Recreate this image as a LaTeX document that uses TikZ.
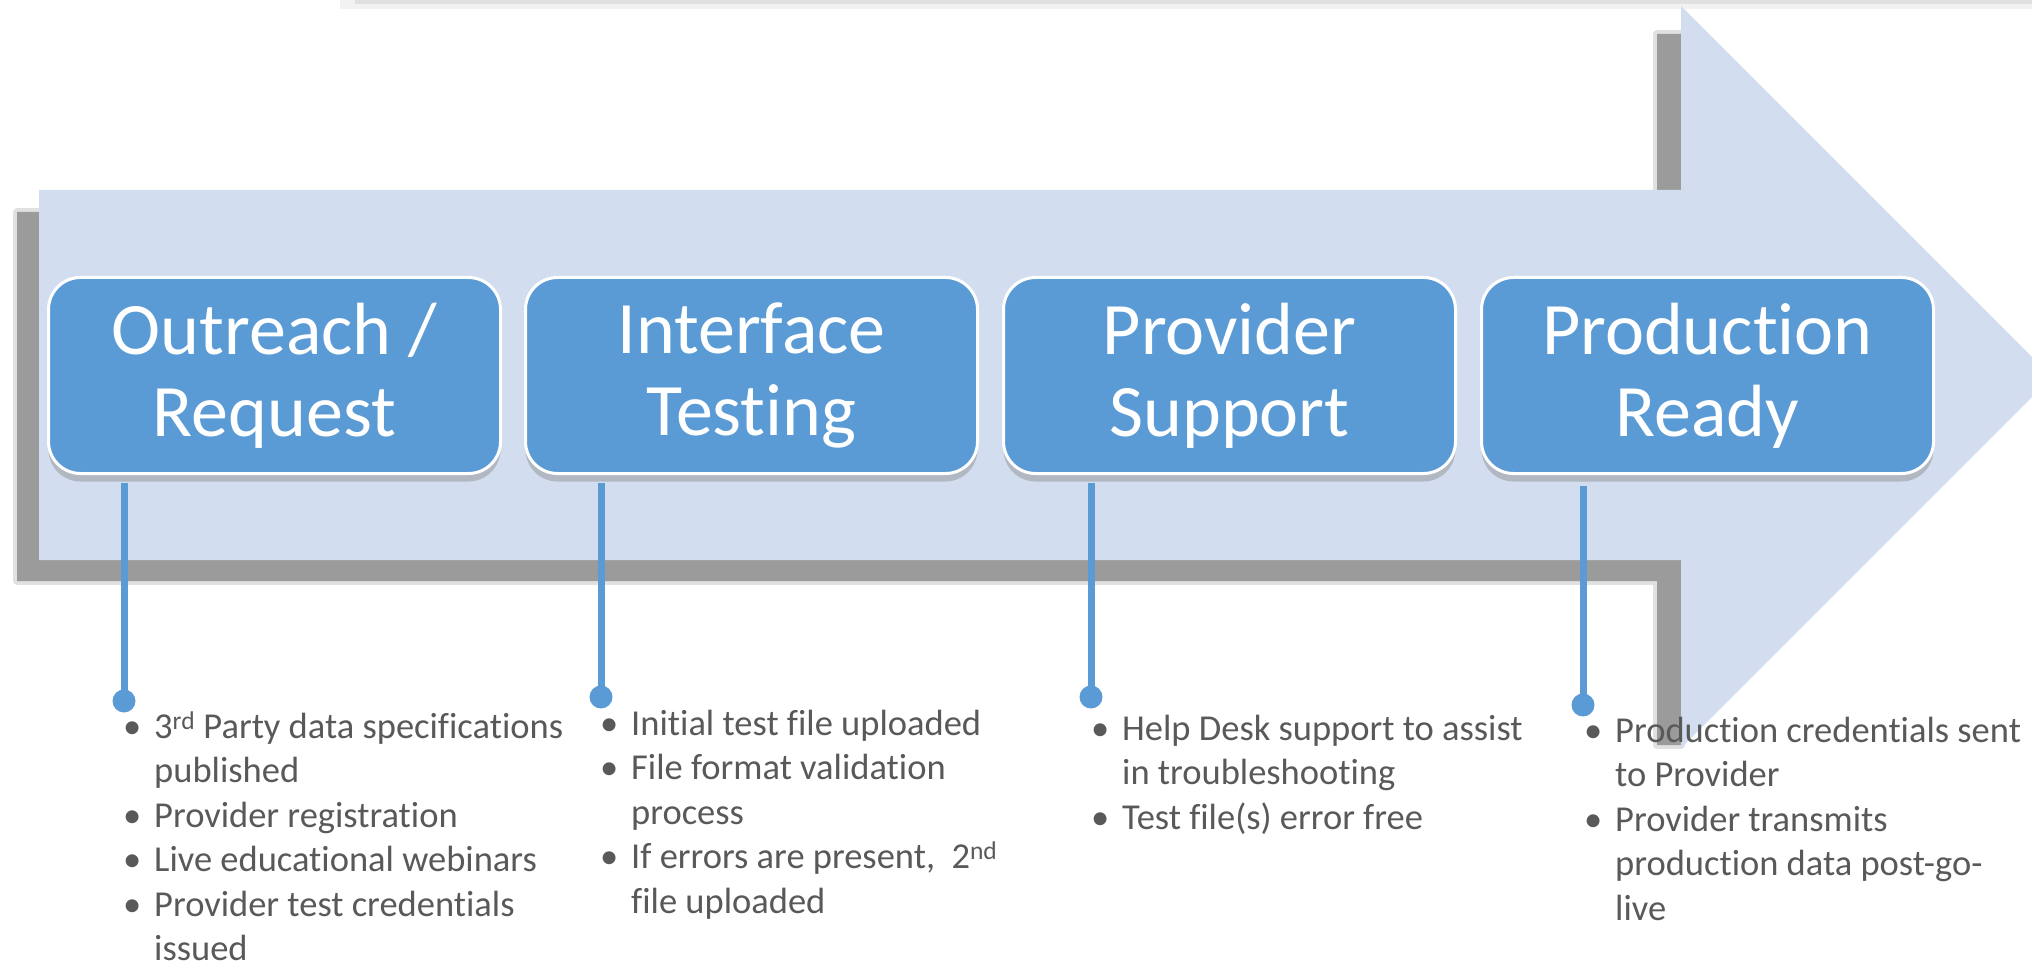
\documentclass[tikz,border=0pt]{standalone}
\usepackage{fontspec}
\setmainfont{Carlito}[Ligatures=NoCommon]
\usetikzlibrary{shadows}
\definecolor{arrowfill}{HTML}{D2DEEF}
\definecolor{boxfill}{HTML}{5B9BD5}
\definecolor{shadowgray}{HTML}{9B9B9B}
\definecolor{txtgray}{HTML}{595959}
\newcommand{\bl}[1]{\makebox[31pt][l]{\textbullet}#1}
\newcommand{\cl}[1]{\hspace*{31pt}#1}
\begin{document}
\begin{tikzpicture}[x=1pt,y=-1pt,
  stagebox/.style={draw=white, line width=3pt, fill=boxfill, rounded corners=32pt,
    minimum width=452pt, minimum height=196pt, text=white, align=center,
    font=\fontsize{74}{82}\selectfont, inner sep=0pt, anchor=north west,
    drop shadow={shadow xshift=0pt, shadow yshift=-8pt, opacity=0.4}},
  stem/.style={draw=boxfill, line width=7pt},
  dotnode/.style={circle, fill=boxfill, minimum size=23pt, inner sep=0pt},
  bullets/.style={anchor=north west, align=left, text=txtgray,
    font=\fontsize{36.5}{44.5}\selectfont, inner sep=0pt}]

\useasboundingbox (0,0) rectangle (2032,965);

% faint line at top
\fill[black!5] (340,0) rectangle (2032,9);
\fill[black!12] (355,0) rectangle (2032,4);

% arrow shadow (soft edge + core)
\draw[shadowgray, line width=8pt, opacity=0.3, line join=round]
  (17,212) -- (1657,212) -- (1657,34) -- (1681,34) -- (1681,745) -- (1657,745) -- (1657,581) -- (17,581) -- cycle;
\fill[shadowgray]
  (17,212) -- (1657,212) -- (1657,34) -- (1681,34) -- (1681,745) -- (1657,745) -- (1657,581) -- (17,581) -- cycle;

% arrow
\fill[arrowfill] (39,190) -- (1681,190) -- (1681,6) -- (2052,377) -- (1681,748) -- (1681,560) -- (39,560) -- cycle;

% stage boxes
\node[stagebox] (s1) at (47,276) {Outreach /\\Request};
\node[stagebox] (s2) at (524,276) {Interface\\Testing};
\node[stagebox] (s3) at (1002,276) {Provider\\Support};
\node[stagebox] (s4) at (1480,276) {Production\\Ready};

% dots
\node[dotnode] (d1) at (124,701) {};
\node[dotnode] (d2) at (601,697) {};
\node[dotnode] (d3) at (1091,697) {};
\node[dotnode] (d4) at (1583,705) {};

\draw[stem] ([yshift=-8pt]s1.south -| d1) -- (d1.center);
\draw[stem] ([yshift=-8pt]s2.south -| d2) -- (d2.center);
\draw[stem] ([yshift=-8pt]s3.south -| d3) -- (d3.center);
\draw[stem] ([yshift=-11pt]s4.south -| d4) -- (d4.center);

% bullet lists
\node[bullets] (l1) at (123,707) {\strut\bl{3\textsuperscript{rd} Party data specifications}\\
  \strut\cl{published}\\
  \strut\bl{Provider registration}\\
  \strut\bl{Live educational webinars}\\
  \strut\bl{Provider test credentials}\\
  \strut\cl{issued}};
\node[bullets] (l2) at (600,704) {\strut\bl{Initial test file uploaded}\\
  \strut\bl{File format validation}\\
  \strut\cl{process}\\
  \strut\bl{If errors are present,\ \ 2\textsuperscript{nd}}\\
  \strut\cl{file uploaded}};
\node[bullets] (l3) at (1091,709) {\strut\bl{Help Desk support to assist}\\
  \strut\cl{in troubleshooting}\\
  \strut\bl{Test file(s) error free}};
\node[bullets] (l4) at (1584,711) {\strut\bl{Production credentials sent}\\
  \strut\cl{to Provider}\\
  \strut\bl{Provider transmits}\\
  \strut\cl{production data post-go-}\\
  \strut\cl{live}};
\end{tikzpicture}
\end{document}
